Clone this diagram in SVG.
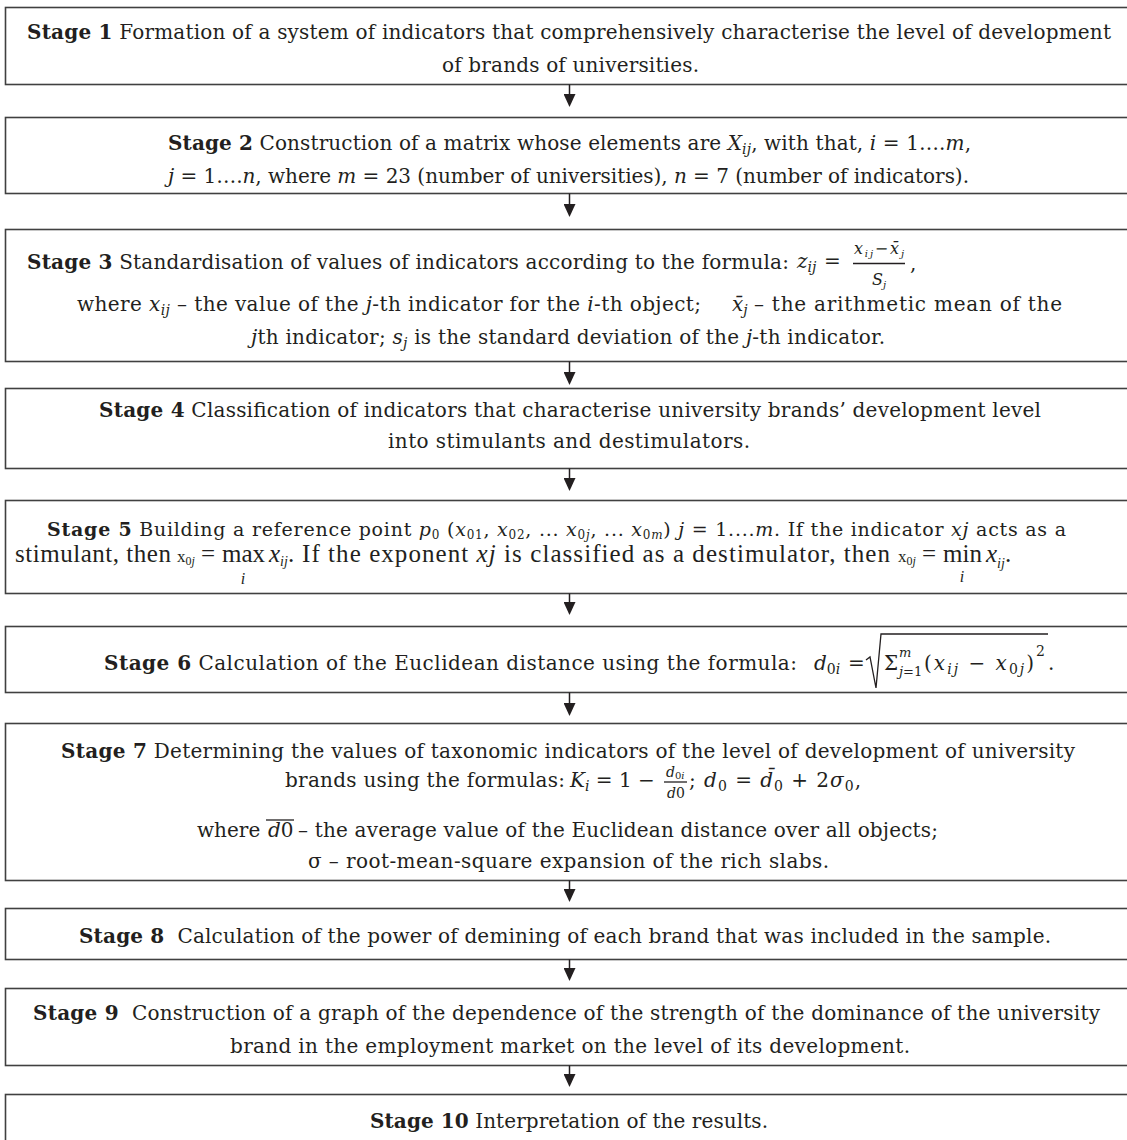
<svg xmlns="http://www.w3.org/2000/svg" width="1127" height="1140" viewBox="0 0 1127 1140">
<defs>
<marker id="ah" markerUnits="userSpaceOnUse" markerWidth="13" markerHeight="12" refX="0" refY="6" orient="auto"><path d="M0,0 L13,6 L0,12 Z" fill="#231f20"/></marker>
<style>
.box{fill:#fff;stroke:#404040;stroke-width:1.6}
.t{font-family:"DejaVu Serif","Liberation Serif",serif;font-size:20px;fill:#231f20}
.tm{font-family:"Liberation Serif","DejaVu Serif",serif;font-size:25px;fill:#231f20}
.b{font-weight:bold}
.i{font-style:italic}
.n{font-style:normal}
.s{font-size:14px}
.ss{font-size:12px}
.xs{font-size:17px}
.f{font-size:14px}
.fs{font-size:10px}
.ln{stroke:#231f20;stroke-width:1.3;fill:none}
#connectors path{stroke:#231f20;stroke-width:1.5;fill:none;marker-end:url(#ah)}
</style>
</defs>
<rect width="1127" height="1140" fill="#fff"/>

<g id="stage1">
<rect class="box" x="5.5" y="7.5" width="1130" height="77"/>
<text class="t" x="27" y="39" textLength="1084" lengthAdjust="spacing"><tspan class="b">Stage 1</tspan> Formation of a system of indicators that comprehensively characterise the level of development</text>
<text class="t" x="442" y="72" textLength="257" lengthAdjust="spacing">of brands of universities.</text>
</g>

<g id="stage2">
<rect class="box" x="5.5" y="117.5" width="1130" height="76"/>
<text class="t" x="168" y="150" textLength="803" lengthAdjust="spacing"><tspan class="b">Stage 2</tspan> Construction of a matrix whose elements are <tspan class="i">X</tspan><tspan class="s i" dy="4">ij</tspan><tspan dy="-4">, with that, </tspan><tspan class="i">i</tspan> = 1….<tspan class="i">m</tspan>,</text>
<text class="t" x="168" y="183" textLength="801" lengthAdjust="spacing"><tspan class="i">j</tspan> = 1….<tspan class="i">n</tspan>, where <tspan class="i">m</tspan> = 23 (number of universities), <tspan class="i">n</tspan> = 7 (number of indicators).</text>
</g>

<g id="stage3">
<rect class="box" x="5.5" y="229.5" width="1130" height="132"/>
<text class="t" x="27" y="269" textLength="762" lengthAdjust="spacing"><tspan class="b">Stage 3</tspan> Standardisation of values of indicators according to the formula:</text>
<text class="t i" x="797" y="268">z<tspan class="s" dy="4">ij</tspan></text>
<text class="t" x="824" y="268">=</text>
<text class="t i" x="854" y="254" style="font-size:16px" textLength="50" lengthAdjust="spacing">x<tspan class="fs" dy="3">ij</tspan><tspan class="n" dy="-3">−</tspan>x̄<tspan class="fs" dy="3">j</tspan></text>
<line class="ln" x1="853" y1="263.5" x2="905" y2="263.5" stroke-width="1"/>
<text class="t i" x="872" y="285" style="font-size:16px">S<tspan class="fs" dy="3">j</tspan></text>
<text class="t" x="910" y="270">,</text>
<text class="t" x="77" y="311" textLength="624" lengthAdjust="spacing">where <tspan class="i">x</tspan><tspan class="s i" dy="4">ij</tspan><tspan dy="-4"> – the value of the </tspan><tspan class="i">j</tspan>-th indicator for the <tspan class="i">i</tspan>-th object;</text>
<text class="t i" x="732" y="311">x̄<tspan class="s" dy="4">j</tspan></text>
<text class="t" x="754" y="311" textLength="308" lengthAdjust="spacing">– the arithmetic mean of the</text>
<text class="t" x="251" y="344" textLength="634" lengthAdjust="spacing"><tspan class="i">j</tspan>th indicator; <tspan class="i">s</tspan><tspan class="s i" dy="4">j</tspan><tspan dy="-4"> is the standard deviation of the </tspan><tspan class="i">j</tspan>-th indicator.</text>
</g>

<g id="stage4">
<rect class="box" x="5.5" y="388.5" width="1130" height="80"/>
<text class="t" x="99" y="417" textLength="942" lengthAdjust="spacing"><tspan class="b">Stage 4</tspan> Classification of indicators that characterise university brands’ development level</text>
<text class="t" x="388" y="448" textLength="362" lengthAdjust="spacing">into stimulants and destimulators.</text>
</g>

<g id="stage5">
<rect class="box" x="5.5" y="500.5" width="1130" height="93"/>
<text class="t" x="47" y="536" style="font-size:19px" textLength="1019" lengthAdjust="spacing"><tspan class="b">Stage 5</tspan> Building a reference point <tspan class="i">p</tspan><tspan class="ss" dy="3">0</tspan><tspan dy="-3"> (</tspan><tspan class="i">x</tspan><tspan class="ss" dy="3">01</tspan><tspan dy="-3">, </tspan><tspan class="i">x</tspan><tspan class="ss" dy="3">02</tspan><tspan dy="-3">, ... </tspan><tspan class="i">x</tspan><tspan class="ss" dy="3">0</tspan><tspan class="ss i">j</tspan><tspan dy="-3">, ... </tspan><tspan class="i">x</tspan><tspan class="ss" dy="3">0</tspan><tspan class="ss i">m</tspan><tspan dy="-3">) </tspan><tspan class="i">j</tspan> = 1....<tspan class="i">m</tspan>. If the indicator <tspan class="i">xj</tspan> acts as a</text>
<text class="tm" x="15" y="562" textLength="156" lengthAdjust="spacing">stimulant, then</text>
<text class="tm" x="177" y="562"><tspan class="xs">x</tspan><tspan class="ss" dy="3">0</tspan><tspan class="ss i">j</tspan></text>
<text class="tm" x="201" y="562">=</text>
<text class="tm" x="222" y="562">max</text>
<text class="tm i" x="243" y="584" style="font-size:16px" text-anchor="middle">i</text>
<text class="tm" x="269" y="562"><tspan class="i">x</tspan><tspan class="s i" dy="4">ij</tspan><tspan dy="-4">.</tspan></text>
<text class="tm" x="302" y="562" textLength="588" lengthAdjust="spacing">If the exponent <tspan class="i">xj</tspan> is classified as a destimulator, then</text>
<text class="tm" x="898" y="562"><tspan class="xs">x</tspan><tspan class="ss" dy="3">0</tspan><tspan class="ss i">j</tspan></text>
<text class="tm" x="922" y="562">=</text>
<text class="tm" x="943" y="562">min</text>
<text class="tm i" x="962" y="582" style="font-size:16px" text-anchor="middle">i</text>
<text class="tm" x="986" y="562"><tspan class="i">x</tspan><tspan class="s i" dy="6">ij</tspan><tspan dy="-6">.</tspan></text>
</g>

<g id="stage6">
<rect class="box" x="5.5" y="626.5" width="1130" height="66"/>
<text class="t" x="104" y="670" textLength="693" lengthAdjust="spacing"><tspan class="b">Stage 6</tspan> Calculation of the Euclidean distance using the formula:</text>
<text class="t i" x="814" y="670">d<tspan class="s n" dy="4">0</tspan><tspan class="s">i</tspan></text>
<text class="t" x="848" y="670">=</text>
<path class="ln" d="M866,660 L870,657 L876,688 L881,634 L1048,634"/>
<text class="t" x="884" y="670">Σ</text>
<text class="t i" x="899" y="657" style="font-size:13px">m</text>
<text class="t" x="899" y="676" style="font-size:13px"><tspan class="i">j</tspan>=1</text>
<text class="t" x="924" y="670" textLength="110" lengthAdjust="spacing">(<tspan class="i">x</tspan><tspan class="s i" dy="4">ij</tspan><tspan dy="-4"> − </tspan><tspan class="i">x</tspan><tspan class="s" dy="4">0</tspan><tspan class="s i">j</tspan><tspan dy="-4">)</tspan></text>
<text class="t s" x="1036" y="656">2</text>
<text class="t" x="1048" y="670">.</text>
</g>

<g id="stage7">
<rect class="box" x="5.5" y="723.5" width="1130" height="157"/>
<text class="t" x="61" y="758" textLength="1014" lengthAdjust="spacing"><tspan class="b">Stage 7</tspan> Determining the values of taxonomic indicators of the level of development of university</text>
<text class="t" x="285" y="787" textLength="280" lengthAdjust="spacing">brands using the formulas:</text>
<text class="t" x="570" y="787"><tspan class="i">K</tspan><tspan class="s i" dy="4">i</tspan><tspan dy="-4"> = 1 − </tspan></text>
<text class="t i f" x="666" y="777">d<tspan class="fs n" dy="2">0</tspan><tspan class="fs">i</tspan></text>
<line class="ln" x1="664" y1="782" x2="687" y2="782" stroke-width="1"/>
<text class="t f" x="667" y="798"><tspan class="i">d</tspan>0</text>
<text class="t" x="689" y="787" textLength="172" lengthAdjust="spacing">; <tspan class="i">d</tspan><tspan class="s" dy="4">0</tspan><tspan dy="-4"> = </tspan><tspan class="i">d̄</tspan><tspan class="s" dy="4">0</tspan><tspan dy="-4"> + 2</tspan><tspan class="i">σ</tspan><tspan class="s" dy="4">0</tspan><tspan dy="-4">,</tspan></text>
<text class="t" x="197" y="837">where</text>
<text class="t" x="268" y="837"><tspan class="i">d</tspan>0</text>
<line class="ln" x1="266" y1="820" x2="294" y2="820" stroke-width="1.5"/>
<text class="t" x="298" y="837" textLength="640" lengthAdjust="spacing">– the average value of the Euclidean distance over all objects;</text>
<text class="t" x="308" y="868" textLength="521" lengthAdjust="spacing">σ – root-mean-square expansion of the rich slabs.</text>
</g>

<g id="stage8">
<rect class="box" x="5.5" y="908.5" width="1130" height="51"/>
<text class="t" x="79" y="943" textLength="972" lengthAdjust="spacing"><tspan class="b">Stage 8</tspan>&#160; Calculation of the power of demining of each brand that was included in the sample.</text>
</g>

<g id="stage9">
<rect class="box" x="5.5" y="988.5" width="1130" height="77"/>
<text class="t" x="33" y="1020" textLength="1067" lengthAdjust="spacing"><tspan class="b">Stage 9</tspan>&#160; Construction of a graph of the dependence of the strength of the dominance of the university</text>
<text class="t" x="230" y="1053" textLength="680" lengthAdjust="spacing">brand in the employment market on the level of its development.</text>
</g>

<g id="stage10">
<rect class="box" x="5.5" y="1094.5" width="1130" height="60"/>
<text class="t" x="370" y="1128" textLength="398" lengthAdjust="spacing"><tspan class="b">Stage 10</tspan> Interpretation of the results.</text>
</g>

<g id="connectors">
<path d="M569.5,84.5 V94"/>
<path d="M569.5,193.5 V204"/>
<path d="M569.5,361.5 V372"/>
<path d="M569.5,468.5 V478"/>
<path d="M569.5,593.5 V602"/>
<path d="M569.5,692.5 V703"/>
<path d="M569.5,880.5 V889"/>
<path d="M569.5,959.5 V968"/>
<path d="M569.5,1065.5 V1074"/>
</g>
</svg>
